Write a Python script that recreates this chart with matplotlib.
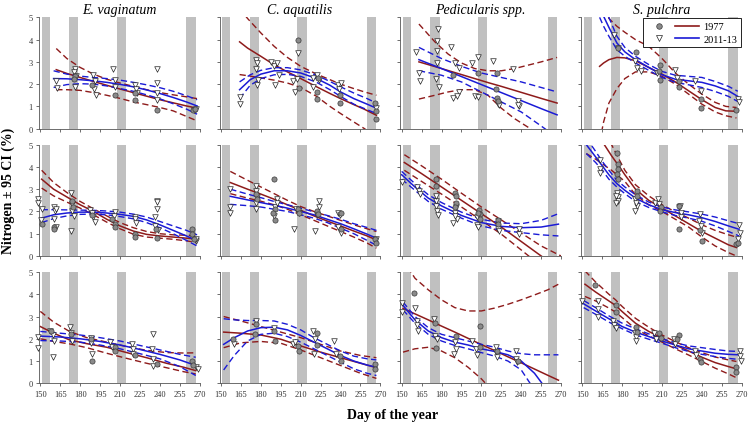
import matplotlib
matplotlib.use('Agg')
import matplotlib.pyplot as plt
from matplotlib.lines import Line2D
from matplotlib.legend_handler import HandlerTuple

plt.rcParams['font.family'] = 'serif'
plt.rcParams['font.serif'] = ['Liberation Serif', 'DejaVu Serif']

species = ['E. vaginatum', 'C. aquatilis', 'Pedicularis spp.', 'S. pulchra']
x_ticks = [150, 165, 180, 195, 210, 225, 240, 255, 270]
y_ticks = [0, 1, 2, 3, 4, 5]
# grey bands = sampling windows (day of year)
bands = [(151, 157), (171.5, 178.5), (207.5, 214.5), (260, 267)]

# ---------------- row 1 ----------------
# E. vaginatum
ev1_pts77_day = [176, 175.5, 189, 206, 221, 221, 238, 265, 266.5]
ev1_pts77_n = [2.35, 2.25, 1.94, 1.53, 1.28, 1.58, 0.86, 0.86, 0.9]
ev1_pts13_day = [161.5, 162.5, 176, 175.5, 176.5, 176, 189.5, 191, 192, 190.5, 204.5, 206, 206.5,
                 221, 222, 222.5, 238, 238, 237.5, 237.5, 265.5, 267.5]
ev1_pts13_n = [2.16, 1.83, 2.69, 2.54, 2.36, 1.88, 2.39, 2.13, 1.53, 1.76, 2.69, 2.2, 1.88,
               1.94, 1.76, 1.6, 2.69, 2.06, 1.6, 1.3, 0.86, 0.88]
ev1_day77 = [162, 170, 180, 190, 200, 210, 220, 230, 240, 250, 260, 268]
ev1_fit77 = [2.65, 2.48, 2.3, 2.12, 1.95, 1.78, 1.62, 1.46, 1.3, 1.16, 1.02, 0.92]
ev1_hi77 = [3.6, 3.15, 2.75, 2.45, 2.22, 2.05, 1.9, 1.75, 1.62, 1.52, 1.43, 1.35]
ev1_lo77 = [1.75, 1.75, 1.72, 1.62, 1.5, 1.36, 1.2, 1.08, 0.95, 0.8, 0.55, 0.35]
ev1_day13 = [160, 170, 180, 190, 200, 210, 220, 230, 240, 250, 260, 268]
ev1_fit13 = [2.25, 2.24, 2.2, 2.15, 2.08, 1.99, 1.88, 1.74, 1.58, 1.4, 1.2, 1.02]
ev1_hi13 = [2.6, 2.45, 2.36, 2.3, 2.25, 2.18, 2.08, 1.97, 1.84, 1.68, 1.48, 1.3]
ev1_lo13 = [1.85, 1.98, 2.02, 2.0, 1.92, 1.8, 1.68, 1.52, 1.34, 1.12, 0.88, 0.65]

# C. aquatilis
ca1_pts77_day = [208, 208.5, 222.5, 222.5, 223, 239.5, 239.5, 266, 266.5, 267]
ca1_pts77_n = [3.98, 1.83, 1.64, 1.34, 2.28, 1.16, 1.53, 1.16, 0.44, 0.78]
ca1_pts13_day = [164.5, 164, 176.5, 177, 176, 178, 177, 188, 190, 192.5, 191, 193.5, 204.5, 205.5,
                 208, 207.5, 219.5, 222, 223.5, 219, 238, 239, 240.5, 267]
ca1_pts13_n = [1.43, 1.13, 3.1, 2.96, 2.66, 2.2, 1.98, 2.99, 2.8, 2.96, 1.98, 2.43, 2.13, 1.64,
               3.4, 2.24, 2.28, 2.39, 2.2, 1.88, 1.98, 1.76, 2.06, 0.95]
ca1_day77 = [164, 170, 180, 190, 200, 210, 222, 232, 240, 250, 258, 267]
ca1_fit77 = [3.9, 3.62, 3.25, 2.87, 2.55, 2.25, 1.88, 1.58, 1.35, 1.08, 0.87, 0.6]
ca1_hi77 = [5.4, 4.95, 4.3, 3.7, 3.2, 2.8, 2.45, 2.2, 2.0, 1.8, 1.65, 1.5]
ca1_lo77 = [2.43, 2.38, 2.28, 2.18, 2.05, 1.85, 1.45, 1.0, 0.68, 0.3, 0.0, -0.4]
ca1_day13 = [164, 172, 180, 190, 200, 210, 222, 232, 240, 250, 260, 267]
ca1_fit13 = [1.75, 2.2, 2.45, 2.6, 2.6, 2.5, 2.25, 1.95, 1.65, 1.35, 1.1, 0.92]
ca1_hi13 = [2.1, 2.42, 2.62, 2.74, 2.74, 2.64, 2.4, 2.12, 1.88, 1.6, 1.35, 1.15]
ca1_lo13 = [1.35, 1.95, 2.25, 2.42, 2.44, 2.35, 2.08, 1.75, 1.45, 1.1, 0.85, 0.68]

# Pedicularis spp.
pe1_pts77_day = [189, 207.5, 221.5, 221, 222, 222.5]
pe1_pts77_n = [2.43, 2.5, 2.5, 1.79, 1.38, 1.23]
pe1_pts13_day = [161, 163, 163.5, 177.5, 176.5, 176.5, 176.5, 175.5, 178, 187.5, 190, 193.5, 193,
                 189, 191.5, 203, 207.5, 205.5, 207.5, 218.5, 222.5, 223, 234, 237.5, 238, 237.5]
pe1_pts13_n = [3.44, 2.48, 2.13, 4.46, 3.96, 3.48, 2.96, 2.25, 1.88, 3.68, 2.96, 2.73, 1.64,
               1.38, 1.46, 2.96, 3.23, 1.46, 1.43, 3.03, 1.13, 1.08, 2.66, 1.23, 1.0, 1.08]
pe1_day77 = [163, 175, 185, 195, 205, 215, 225, 235, 245, 255, 267]
pe1_fit77 = [3.0, 2.79, 2.61, 2.43, 2.25, 2.07, 1.9, 1.72, 1.54, 1.36, 1.15]
pe1_hi77 = [4.7, 3.9, 3.35, 2.95, 2.7, 2.6, 2.6, 2.7, 2.85, 3.0, 3.2]
pe1_lo77 = [1.33, 1.5, 1.65, 1.75, 1.75, 1.5, 0.92, 0.45, 0.07, -0.35, -0.9]
pe1_day13 = [163, 180, 195, 210, 225, 240, 255, 267]
pe1_fit13 = [3.1, 2.7, 2.34, 1.98, 1.62, 1.26, 0.9, 0.62]
pe1_hi13 = [3.65, 3.15, 2.8, 2.5, 2.3, 2.1, 1.85, 1.65]
pe1_lo13 = [2.6, 2.4, 2.1, 1.65, 1.2, 0.75, 0.12, -0.4]

# S. pulchra
sp1_pts77_day = [177, 190.5, 208.5, 208, 208.5, 222.5, 222.5, 239.5, 239.5, 266]
sp1_pts77_n = [3.63, 3.44, 2.84, 2.58, 2.18, 2.13, 1.88, 1.31, 0.93, 0.83]
sp1_pts13_day = [173.5, 177, 190, 191, 194.5, 206, 219.5, 221.5, 235, 239.5, 267.5, 268]
sp1_pts13_n = [4.19, 3.63, 3.03, 2.73, 2.58, 2.48, 2.63, 2.28, 2.13, 1.68, 1.31, 1.2]
sp1_day77 = [163, 166, 170, 176, 182, 190, 200, 210, 220, 230, 240, 250, 258, 266]
sp1_fit77 = [2.8, 2.95, 3.1, 3.2, 3.18, 3.05, 2.75, 2.45, 2.1, 1.7, 1.3, 0.95, 0.8, 0.78]
sp1_hi77 = [6.2, 5.6, 4.95, 4.6, 4.33, 4.0, 3.7, 3.15, 2.5, 2.0, 1.55, 1.18, 1.0, 0.95]
sp1_lo77 = [-0.6, 0.3, 1.15, 1.8, 2.25, 2.55, 2.55, 2.35, 2.0, 1.55, 1.1, 0.75, 0.58, 0.48]
sp1_day13 = [163, 166, 170, 176, 182, 190, 200, 210, 220, 230, 240, 250, 260, 267]
sp1_fit13 = [5.5, 5.05, 4.55, 3.85, 3.45, 3.1, 2.75, 2.42, 2.22, 2.15, 2.08, 1.92, 1.7, 1.45]
sp1_hi13 = [6.0, 5.5, 5.0, 4.15, 3.65, 3.25, 2.88, 2.57, 2.4, 2.35, 2.3, 2.12, 1.9, 1.68]
sp1_lo13 = [5.0, 4.6, 4.15, 3.55, 3.25, 2.95, 2.62, 2.3, 2.08, 1.97, 1.85, 1.67, 1.45, 1.22]

# ---------------- row 2 ----------------
ev2_pts77_day = [151, 160, 160.5, 174, 174.5, 189, 204, 206.5, 206.5, 221, 221.5, 237, 238,
                 264.5, 264.5, 265.5]
ev2_pts77_n = [1.43, 1.28, 1.23, 2.48, 2.2, 1.83, 1.65, 1.43, 1.32, 1.0, 0.86, 1.23, 0.83,
               1.2, 1.0, 0.75]
ev2_pts13_day = [148.5, 148.5, 151, 150.5, 160, 161, 160.5, 161.5, 162, 173, 174, 174, 175, 173,
                 187.5, 189, 190, 191, 206.5, 205.5, 221.5, 221.5, 222, 237.5, 237.5, 237.5,
                 236.5, 236.5, 238.5, 267.5, 267]
ev2_pts13_n = [2.58, 2.4, 2.1, 1.6, 2.18, 2.03, 1.65, 1.28, 2.1, 2.85, 2.33, 2.03, 1.8, 1.13,
               2.06, 1.95, 1.73, 1.53, 1.98, 1.8, 1.77, 1.65, 1.5, 2.48, 2.43, 2.1, 1.73, 1.35,
               1.17, 0.68, 0.78]
ev2_day77 = [151, 160, 170, 180, 190, 200, 210, 220, 230, 240, 250, 260, 268]
ev2_fit77 = [3.45, 3.0, 2.65, 2.3, 2.0, 1.65, 1.35, 1.12, 0.97, 0.9, 0.85, 0.8, 0.75]
ev2_hi77 = [3.85, 3.3, 2.85, 2.45, 2.12, 1.8, 1.5, 1.27, 1.1, 1.0, 0.95, 0.93, 0.9]
ev2_lo77 = [3.05, 2.7, 2.42, 2.15, 1.85, 1.52, 1.22, 0.98, 0.85, 0.8, 0.75, 0.68, 0.6]
ev2_day13 = [151, 160, 170, 180, 190, 200, 210, 220, 230, 240, 250, 260, 268]
ev2_fit13 = [1.7, 1.85, 1.93, 1.97, 1.97, 1.93, 1.87, 1.78, 1.62, 1.4, 1.15, 0.9, 0.68]
ev2_hi13 = [2.08, 2.08, 2.07, 2.06, 2.05, 2.02, 1.97, 1.88, 1.75, 1.55, 1.35, 1.15, 0.95]
ev2_lo13 = [1.5, 1.68, 1.8, 1.87, 1.88, 1.85, 1.77, 1.67, 1.5, 1.27, 1.0, 0.7, 0.45]

ca2_pts77_day = [176.5, 177, 190, 191, 190.5, 189.5, 208, 209, 222.5, 223, 240.5, 240, 266, 267]
ca2_pts77_n = [2.78, 2.55, 3.48, 2.1, 1.63, 1.95, 2.1, 1.92, 2.03, 1.9, 1.95, 1.2, 0.75, 0.6]
ca2_pts13_day = [157, 156.5, 157, 176, 176, 177, 176.5, 176, 192, 190.5, 190, 192.5, 206.5, 205,
                 209, 223.5, 223.5, 222, 221, 238, 239.5, 238, 240, 267]
ca2_pts13_n = [3.03, 2.2, 1.92, 3.15, 2.93, 2.63, 2.4, 2.1, 2.55, 2.18, 1.8, 2.4, 2.1, 1.2,
               1.95, 2.48, 2.18, 1.83, 1.13, 1.92, 1.85, 1.28, 1.05, 0.78]
ca2_day77 = [157, 170, 180, 190, 200, 210, 220, 230, 240, 250, 260, 267]
ca2_fit77 = [3.3, 3.0, 2.78, 2.55, 2.3, 2.05, 1.8, 1.57, 1.35, 1.12, 0.9, 0.72]
ca2_hi77 = [3.8, 3.4, 3.1, 2.8, 2.5, 2.22, 2.0, 1.8, 1.6, 1.4, 1.22, 1.1]
ca2_lo77 = [2.8, 2.6, 2.46, 2.3, 2.1, 1.85, 1.6, 1.35, 1.1, 0.85, 0.58, 0.35]
ca2_day13 = [157, 170, 180, 190, 200, 210, 220, 230, 240, 250, 260, 267]
ca2_fit13 = [2.68, 2.52, 2.4, 2.28, 2.15, 2.0, 1.85, 1.65, 1.45, 1.22, 0.98, 0.8]
ca2_hi13 = [3.0, 2.78, 2.62, 2.45, 2.3, 2.15, 1.98, 1.82, 1.65, 1.45, 1.28, 1.15]
ca2_lo13 = [2.32, 2.26, 2.2, 2.1, 2.0, 1.85, 1.7, 1.5, 1.25, 1.0, 0.7, 0.48]

pe2_pts77_day = [175.5, 175.5, 190, 191, 191, 190, 208.5, 209, 209, 207.5, 222.5, 222.5]
pe2_pts77_n = [3.45, 3.15, 2.85, 2.7, 2.4, 2.18, 2.07, 1.88, 1.65, 1.95, 1.62, 1.43]
pe2_pts13_day = [150, 161.5, 163, 164, 175.5, 176, 176.5, 177, 175.5, 190, 189, 191.5, 191, 190.5,
                 206.5, 207, 207.5, 222.5, 222.5, 223, 238, 238.5]
pe2_pts13_n = [3.33, 3.08, 2.93, 2.78, 2.48, 2.25, 2.03, 1.83, 2.7, 1.95, 1.5, 1.65, 2.18, 1.8,
               1.73, 1.38, 1.28, 1.58, 1.23, 1.13, 1.23, 0.98]
pe2_day77 = [152, 165, 180, 195, 210, 225, 240, 255, 270]
pe2_fit77 = [4.2, 3.7, 3.1, 2.5, 1.9, 1.3, 0.65, 0.0, -0.6]
pe2_hi77 = [4.55, 4.05, 3.45, 2.82, 2.2, 1.62, 1.03, 0.45, 0.0]
pe2_lo77 = [3.85, 3.35, 2.78, 2.2, 1.6, 0.98, 0.27, -0.45, -1.2]
pe2_day13 = [150, 160, 170, 180, 195, 210, 225, 240, 255, 268]
pe2_fit13 = [3.65, 3.1, 2.6, 2.25, 1.82, 1.5, 1.33, 1.27, 1.3, 1.43]
pe2_hi13 = [3.8, 3.25, 2.75, 2.4, 1.97, 1.65, 1.48, 1.45, 1.6, 1.9]
pe2_lo13 = [3.45, 2.95, 2.45, 2.1, 1.7, 1.35, 1.15, 1.05, 0.95, 0.9]

sp2_pts77_day = [176, 176.5, 176.5, 176, 176.5, 191.5, 191.5, 209, 208.5, 222.5, 223, 238.5, 240,
                 266, 267.5]
sp2_pts77_n = [4.62, 4.13, 3.9, 3.68, 3.45, 2.93, 2.7, 2.18, 2.03, 2.25, 1.23, 1.17, 0.68,
               0.53, 0.6]
sp2_pts13_day = [163.5, 163, 163.5, 176, 176.5, 177, 175.5, 175, 190, 191.5, 189.5, 190.5, 205,
                 207, 207.5, 222.5, 224, 224.5, 223.5, 238.5, 237.5, 239.5, 240, 268, 268.5, 267]
sp2_pts13_n = [4.32, 3.9, 3.75, 2.85, 2.63, 2.48, 2.4, 2.7, 2.55, 2.25, 2.03, 2.4, 2.4, 2.55,
               2.33, 2.18, 1.95, 1.73, 2.25, 1.88, 1.58, 1.35, 1.05, 1.38, 1.05, 0.75]
sp2_day77 = [153, 160, 166, 172, 178, 182, 190, 200, 210, 220, 230, 240, 250, 260, 266]
sp2_fit77 = [6.3, 5.6, 5.05, 4.5, 4.0, 3.65, 3.0, 2.5, 2.15, 1.8, 1.45, 1.1, 0.8, 0.5, 0.38]
sp2_hi77 = [7.5, 6.5, 5.7, 5.0, 4.3, 3.85, 3.2, 2.7, 2.3, 1.98, 1.7, 1.4, 1.15, 0.95, 0.85]
sp2_lo77 = [4.6, 4.35, 4.1, 3.85, 3.55, 3.35, 2.75, 2.3, 2.0, 1.65, 1.3, 0.85, 0.45, 0.15, 0.0]
sp2_day13 = [153, 160, 165, 170, 176, 182, 190, 200, 210, 220, 230, 240, 250, 260, 268]
sp2_fit13 = [5.0, 4.45, 4.05, 3.65, 3.25, 2.95, 2.6, 2.3, 2.08, 1.95, 1.85, 1.72, 1.55, 1.35, 1.2]
sp2_hi13 = [5.3, 4.7, 4.25, 3.85, 3.4, 3.1, 2.75, 2.42, 2.2, 2.07, 1.98, 1.88, 1.75, 1.58, 1.45]
sp2_lo13 = [4.6, 4.2, 3.85, 3.45, 3.1, 2.8, 2.45, 2.18, 1.98, 1.82, 1.7, 1.56, 1.35, 1.1, 0.9]

# ---------------- row 3 ----------------
ev3_pts77_day = [158, 173, 189, 188, 206.5, 206.5, 221, 237.5, 264.5, 265]
ev3_pts77_n = [2.37, 2.22, 0.98, 2.0, 1.62, 1.47, 1.25, 0.87, 1.02, 0.8]
ev3_pts13_day = [148.5, 148.5, 157, 159.2, 160, 159.5, 172.5, 173, 173.5, 187.8, 188.5, 189,
                 202.7, 204, 218.8, 219.5, 220, 234.5, 233.8, 234.5, 235, 267.3, 268.5]
ev3_pts13_n = [2.07, 1.58, 2.37, 2.15, 1.92, 1.17, 2.52, 2.27, 1.92, 2.03, 1.82, 1.32,
               1.85, 1.62, 1.77, 1.55, 1.32, 2.22, 1.52, 1.07, 0.77, 0.72, 0.62]
ev3_day77 = [150, 160, 172, 185, 200, 215, 230, 245, 258, 267]
ev3_fit77 = [2.55, 2.25, 1.95, 1.78, 1.62, 1.38, 1.15, 0.9, 0.72, 0.57]
ev3_hi77 = [3.23, 2.75, 2.33, 2.05, 1.85, 1.65, 1.48, 1.38, 1.36, 1.37]
ev3_lo77 = [2.0, 1.88, 1.77, 1.6, 1.35, 1.12, 0.9, 0.7, 0.52, 0.42]
ev3_day13 = [150, 165, 180, 195, 210, 225, 240, 255, 267]
ev3_fit13 = [2.12, 2.08, 2.0, 1.88, 1.72, 1.52, 1.3, 1.05, 0.8]
ev3_hi13 = [2.33, 2.25, 2.17, 2.05, 1.9, 1.7, 1.5, 1.3, 1.17]
ev3_lo13 = [1.92, 1.9, 1.85, 1.72, 1.55, 1.33, 1.1, 0.75, 0.35]

ca3_pts77_day = [158.7, 176, 175.5, 189.8, 190.5, 207.9, 208.5, 222, 222, 239.4, 240, 266.3, 265.8]
ca3_pts77_n = [2.0, 2.67, 2.22, 2.33, 1.89, 1.67, 1.47, 2.28, 1.7, 1.22, 1.02, 0.87, 0.62]
ca3_pts13_day = [160, 176, 189.8, 204.2, 206, 219.6, 220.3, 220.8, 235.2, 236.5]
ca3_pts13_n = [1.77, 2.82, 2.48, 1.77, 1.85, 2.33, 1.32, 1.98, 1.89, 1.32]
ca3_day77 = [152, 165, 180, 195, 210, 225, 240, 255, 267]
ca3_fit77 = [2.3, 2.25, 2.17, 1.98, 1.68, 1.4, 1.15, 0.9, 0.7]
ca3_hi77 = [3.0, 2.8, 2.55, 2.3, 2.05, 1.75, 1.45, 1.25, 1.15]
ca3_lo77 = [1.6, 1.82, 1.88, 1.8, 1.5, 1.15, 0.8, 0.45, 0.22]
ca3_day13 = [152, 160, 170, 180, 190, 200, 210, 220, 230, 240, 250, 260, 267]
ca3_fit13 = [1.75, 2.05, 2.35, 2.5, 2.52, 2.4, 2.15, 1.85, 1.55, 1.25, 1.0, 0.82, 0.72]
ca3_hi13 = [2.9, 2.85, 2.82, 2.82, 2.8, 2.65, 2.4, 2.05, 1.75, 1.45, 1.22, 1.1, 1.05]
ca3_lo13 = [0.6, 1.25, 1.9, 2.2, 2.25, 2.1, 1.85, 1.55, 1.25, 0.95, 0.65, 0.45, 0.35]

pe3_pts77_day = [159.2, 175.3, 175.5, 191, 208.9, 209, 222, 237.5]
pe3_pts77_n = [4.04, 2.72, 1.58, 2.12, 2.57, 1.62, 1.47, 1.02]
pe3_pts13_day = [150.5, 150.5, 160.4, 161.6, 161.6, 162.4, 174.1, 175.3, 176.5, 190.2, 191, 189.5,
                 202.7, 205.9, 206.4, 220.8, 221.3, 221.8, 236.2, 236.2, 236.7]
pe3_pts13_n = [3.62, 3.2, 3.38, 2.82, 2.63, 2.37, 2.87, 2.12, 2.0, 1.85, 1.52, 1.32,
               1.92, 1.55, 1.28, 1.62, 1.4, 1.17, 1.43, 1.07, 0.95]
pe3_day77 = [151, 157, 160, 170, 180, 190, 200, 210, 220, 230, 240, 250, 260, 268]
pe3_fit77 = [3.37, 3.2, 3.12, 2.85, 2.57, 2.3, 2.02, 1.74, 1.47, 1.19, 0.92, 0.64, 0.36, 0.14]
pe3_hi77 = [5.6, 5.0, 4.72, 4.2, 3.75, 3.4, 3.25, 3.25, 3.38, 3.55, 3.75, 3.97, 4.2, 4.45]
pe3_lo77 = [1.4, 1.5, 1.55, 1.62, 1.45, 1.15, 0.72, 0.2, -0.45, -1.15, -1.9, -2.7, -3.5, -4.2]
pe3_day13 = [151, 160, 170, 180, 190, 200, 210, 220, 230, 240, 250, 260, 268]
pe3_fit13 = [3.5, 2.85, 2.35, 2.05, 1.85, 1.72, 1.55, 1.43, 1.28, 1.0, 0.45, -0.35, -1.0]
pe3_hi13 = [3.65, 3.0, 2.5, 2.2, 2.05, 1.9, 1.75, 1.62, 1.45, 1.33, 1.28, 1.28, 1.28]
pe3_lo13 = [3.3, 2.7, 2.2, 1.9, 1.7, 1.55, 1.38, 1.22, 1.0, 0.6, -0.3, -1.3, -2.2]

sp3_pts77_day = [159.2, 175.3, 175.3, 190.2, 191, 207.6, 208.9, 222.5, 221.3, 238.7, 239.4,
                 265.5, 266]
sp3_pts77_n = [4.4, 3.53, 3.2, 2.52, 2.3, 2.27, 2.03, 2.18, 2.0, 1.07, 0.95, 0.72, 0.53]
sp3_pts13_day = [150, 161.7, 161.7, 161.7, 172.9, 174.1, 175.3, 189.3, 190.5, 190.5, 203.9,
                 205.2, 218.8, 220, 235, 235.7, 268.5, 269, 269.8]
sp3_pts13_n = [3.68, 3.68, 3.32, 2.97, 2.78, 2.6, 2.48, 2.27, 2.07, 1.92, 2.27, 2.0, 1.97,
               1.77, 1.47, 1.28, 1.43, 1.22, 1.02]
sp3_day77 = [152, 160, 170, 175, 180, 190, 200, 210, 220, 230, 240, 250, 260, 266]
sp3_fit77 = [4.45, 4.1, 3.7, 3.5, 3.22, 2.7, 2.33, 2.03, 1.72, 1.45, 1.17, 0.93, 0.75, 0.65]
sp3_hi77 = [5.05, 4.55, 4.0, 3.75, 3.45, 2.92, 2.52, 2.17, 1.87, 1.6, 1.38, 1.18, 1.05, 0.98]
sp3_lo77 = [3.9, 3.7, 3.38, 3.2, 2.95, 2.45, 2.13, 1.85, 1.55, 1.27, 0.98, 0.68, 0.42, 0.25]
sp3_day13 = [151, 160, 170, 180, 190, 200, 210, 220, 230, 240, 250, 260, 268]
sp3_fit13 = [3.57, 3.25, 2.9, 2.55, 2.3, 2.1, 1.9, 1.72, 1.55, 1.45, 1.35, 1.3, 1.28]
sp3_hi13 = [3.72, 3.4, 3.03, 2.7, 2.45, 2.22, 2.0, 1.82, 1.68, 1.6, 1.52, 1.45, 1.43]
sp3_lo13 = [3.4, 3.1, 2.75, 2.45, 2.18, 1.98, 1.8, 1.6, 1.43, 1.3, 1.2, 1.12, 1.07]

# panel prefixes, laid out like the figure (rows x species)
grid = [[p + str(r) for p in ('ev', 'ca', 'pe', 'sp')] for r in (1, 2, 3)]
g = globals()

RED = '#8e1b1b'
BLUE = '#1a1ad6'
DASH = (0, (4.5, 2.5))

fig, axes = plt.subplots(3, 4, figsize=(7.5, 4.27), dpi=100)
plt.subplots_adjust(left=0.052, right=0.989, top=0.957, bottom=0.1, wspace=0.124, hspace=0.144)

for r in range(3):
    for c in range(4):
        ax = axes[r, c]
        k = grid[r][c]
        for a, b in bands:
            ax.axvspan(a, b, color='#c0c0c0', lw=0, zorder=0)

        # fitted curve + 95% CI for each period
        for yr, col in (('77', RED), ('13', BLUE)):
            d = g[k + '_day' + yr]
            ax.plot(d, g[k + '_fit' + yr], color=col, lw=1.1, zorder=2)
            ax.plot(d, g[k + '_hi' + yr], color=col, lw=1.0, ls=DASH, zorder=2)
            ax.plot(d, g[k + '_lo' + yr], color=col, lw=1.0, ls=DASH, zorder=2)

        ax.scatter(g[k + '_pts77_day'], g[k + '_pts77_n'], s=14, marker='o',
                   facecolor='#8a8a8a', edgecolor='#3a3a3a', linewidth=0.5, zorder=4, clip_on=False)
        ax.scatter(g[k + '_pts13_day'], g[k + '_pts13_n'], s=16, marker='v',
                   facecolor='white', edgecolor='#222222', linewidth=0.5, zorder=3, clip_on=False)

        ax.set_xlim(149, 270)
        ax.set_ylim(0, 5)
        ax.set_xticks(x_ticks)
        ax.set_yticks(y_ticks)
        ax.spines['top'].set_visible(False)
        ax.spines['right'].set_visible(False)
        for s in ('left', 'bottom'):
            ax.spines[s].set_linewidth(0.6)
            ax.spines[s].set_color('#555555')
        ax.tick_params(direction='out', length=2.5, width=0.6, color='#555555',
                       labelsize=6, labelcolor='#333333', pad=2)
        if r < 2:
            ax.set_xticklabels([])
        if c > 0:
            ax.set_yticklabels([])
        if r == 0:
            ax.set_title(species[c], fontsize=10, style='italic', pad=3)

# legend in the S. pulchra top panel
h77 = (Line2D([], [], marker='o', ls='', ms=4, mfc='#8a8a8a', mec='#3a3a3a', mew=0.5),
       Line2D([], [], color=RED, lw=1.2))
h13 = (Line2D([], [], marker='v', ls='', ms=4, mfc='white', mec='#222222', mew=0.5),
       Line2D([], [], color=BLUE, lw=1.2))
leg = axes[0, 3].legend([h77, h13], ['1977', '2011-13'],
                        handler_map={tuple: HandlerTuple(ndivide=None, pad=0.4)},
                        loc='upper right', bbox_to_anchor=(1.0, 1.0), borderaxespad=0.1,
                        fontsize=7.5, handlelength=5, handletextpad=0.4, labelspacing=0.3,
                        borderpad=0.35, fancybox=False, framealpha=1)
leg.get_frame().set_edgecolor('black')
leg.get_frame().set_linewidth(0.6)

fig.text(0.011, 0.553, 'Nitrogen ± 95 CI (%)', rotation=90, fontsize=10, fontweight='bold',
         ha='center', va='center')
fig.text(0.524, 0.026, 'Day of the year', fontsize=10, fontweight='bold', ha='center', va='center')

fig.savefig('out.png', dpi=100, facecolor='white')
